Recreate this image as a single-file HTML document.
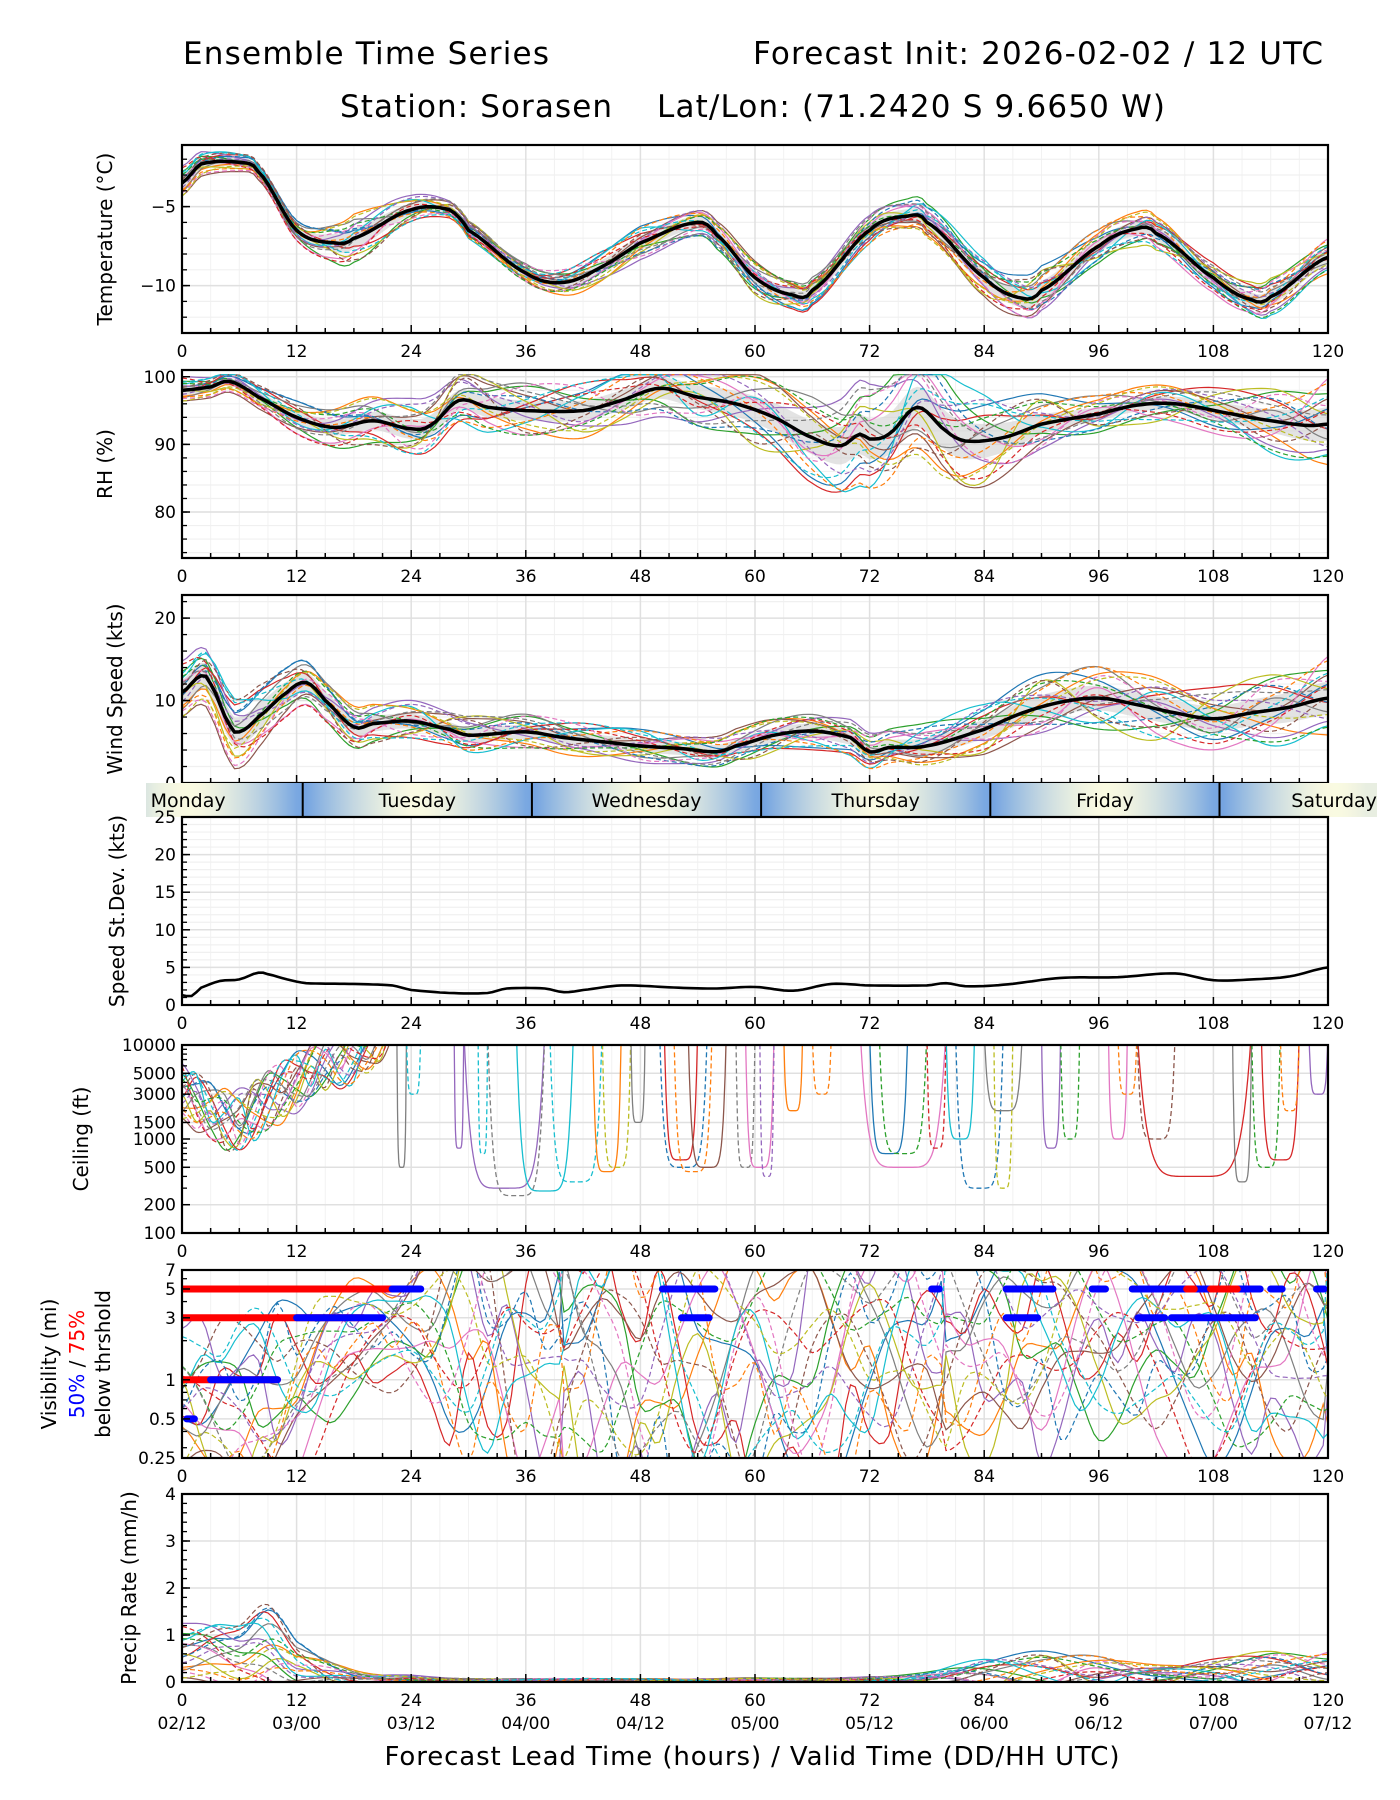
<!DOCTYPE html>
<html><head><meta charset="utf-8"><title>Ensemble Time Series</title>
<style>html,body{margin:0;padding:0;background:#fff}svg{display:block}text{font-family:"DejaVu Sans","Liberation Sans",sans-serif}</style>
</head><body>
<svg id="fig" xmlns="http://www.w3.org/2000/svg" width="1400" height="1800" viewBox="0 0 1400 1800">
<rect x="0" y="0" width="1400" height="1800" fill="#fff"/>
<text x="183" y="64" font-size="31" textLength="366">Ensemble Time Series</text>
<text x="1323" y="64" font-size="31" text-anchor="end" textLength="570">Forecast Init: 2026-02-02 / 12 UTC</text>
<text x="340" y="117" font-size="31" textLength="272">Station: Sorasen</text>
<text x="657" y="117" font-size="31" textLength="508">Lat/Lon: (71.2420 S 9.6650 W)</text>
<text x="752" y="1765" font-size="26" text-anchor="middle" textLength="735">Forecast Lead Time (hours) / Valid Time (DD/HH UTC)</text>
</svg>
<script>
// ---------- data ----------
const tempHours=[0,2,6,8,12,16,18,24,28,30,36,40,44,48,54,56,60,64,66,72,76,78,84,88,90,96,100,102,108,112,114,120];
const tempMean=[-3.5,-2.3,-2.2,-2.8,-6.5,-7.3,-7.0,-5.2,-5.2,-6.5,-9.2,-9.8,-8.8,-7.3,-6.0,-6.8,-9.5,-10.6,-10.3,-6.5,-5.6,-6.0,-9.5,-10.8,-10.3,-7.5,-6.4,-6.7,-9.5,-10.9,-10.7,-8.2];
const tempSpread=[0.9,0.5,0.6,1.3,0.7,0.5,0.5,0.8,0.9,0.8,0.9,0.8,0.8,0.9,1.0,1.2,0.9,0.9,0.8,1.0,1.0];
const rhHours=[0,3,5,8,12,16,20,24,26,29,32,36,42,46,50,54,58,62,66,69,71,72,74,77,80,82,86,90,96,100,104,110,114,118,120];
const rhMean=[98,98.5,99.3,97,94,92.5,93.5,92.3,92.8,96.5,95.5,95,95,96.5,98.3,97,96,94,91,89.8,91.5,90.8,91.5,95.5,92,90.5,91,93,94.5,95.8,96,94.5,93.5,92.8,93];
const rhSpread=[1.5,1.2,2,2.5,3,3,3,3,3,3.5,4,5,6,6,5,3,2,2,2.5,3.5,5];
const windHours=[0,2,3,5,6,8,11,13,15,18,20,24,28,30,36,40,44,48,52,56,58,62,66,70,72,74,78,84,88,92,96,100,104,108,112,116,120];
const windMean=[11,13,12,7,6.2,8,11,12.2,10,6.8,7.2,7.5,6.5,5.8,6.2,5.5,5,4.5,4.2,3.8,4.5,5.8,6.3,5.5,3.8,4.3,4.5,6.5,8.5,9.8,10.3,9.5,8.5,7.8,8.5,9.2,10.3];
const windSpread=[3,3.5,2.5,2,1.8,1.8,1.7,1.6,1.6,1.6,1.7,1.8,1.8,2,2.4,2.8,3,3,3,3.4,4];
const sdHours=[0,1,2,4,6,8,9,11,13,18,22,24,28,32,34,38,40,42,46,52,56,60,64,68,72,78,80,82,86,92,98,104,108,112,116,120];
const sdValues=[1.3,1.2,2.3,3.2,3.4,4.3,4.1,3.4,2.9,2.8,2.6,2.0,1.6,1.6,2.2,2.2,1.7,2.0,2.6,2.3,2.2,2.4,1.9,2.8,2.6,2.6,2.9,2.5,2.7,3.6,3.7,4.2,3.3,3.4,3.8,5.0];
const ceilHours=[0,3,6,9,12,15,18,21,24];
const ceilMean=[3000,2000,1500,2500,4000,7000,8000,15000,40000];
// ceiling dips: start hour, end hour, minimum ft, member index
const dipStart=[22.5,23.5,28.5,31,29.5,32,35,38.5,43,44,47,50,50.5,51.5,53,58,59,60.5,63,66,72,73,71,78,80,81,84,85,90,92,97,98,100,100,110,112,113,115,118];
const dipEnd=[23.5,25,29.5,32,38,38,41,44,46,47,48.5,55,54,55.5,57,60,62,62,65,68,76,78,80,80,83,86,88,87,92,94,99,100,112,104,112,115,117,117,120];
const dipMin=[500,3000,800,700,300,250,280,350,450,500,1500,500,600,450,500,500,500,400,2000,3000,700,700,500,800,1000,300,2000,300,800,1000,1000,3000,400,1000,350,500,600,2000,3000];
const dipMember=[7,9,4,9,4,7,9,9,1,8,7,0,3,1,5,7,6,4,1,1,0,2,6,3,9,0,7,8,4,2,6,1,3,5,7,2,3,1,4];
const visHours=[0,6,12,18,24,30,36,42,48,54,60,66,72,78,84,90,96,102,108,114,120];
const visMean=[0.6,0.55,0.8,2,2.5,2.5,1.5,1.4,1.2,1.0,1.0,1.2,2,1.8,2,2,2.5,2,1.5,1.8,1.5];
const visSpread=[0.35,0.45,0.4,0.25,0.3,0.6,0.7,0.7,0.7,0.6,0.6,0.6,0.5,0.6,0.5,0.5,0.45,0.45,0.5,0.55,0.5];
// threshold bars: level (mi), start h, end h, colour
const barLevel=[5,3,1,3,1,0.5,5,5,3,5,5,5,5,3,3,3,5,5,5,5];
const barStart=[0,0,0,12,3,0.5,22,50.3,52.3,78.5,86.3,95.3,99.5,86.3,100.1,103.6,105.2,107.7,114,118.8];
const barEnd=[22,19,10,21,10,1.3,25,55.8,55.2,79.3,91.2,96.7,112.9,89.6,102.9,112.4,106,110.5,115.2,119.6];
const barColor=['red','red','red','blue','blue','blue','blue','blue','blue','blue','blue','blue','blue','blue','blue','blue','red','red','blue','blue'];
const prHours=[0,3,6,9,12,18,24,30,36,42,48,54,60,66,72,78,84,90,96,102,108,114,120];
const prMean=[0.6,0.65,0.55,0.75,0.35,0.08,0.05,0.03,0.03,0.03,0.03,0.03,0.03,0.03,0.04,0.05,0.12,0.18,0.18,0.15,0.2,0.22,0.2];
const prSpread=[0.45,0.5,0.5,0.7,0.4,0.12,0.06,0.03,0.03,0.03,0.03,0.03,0.04,0.04,0.05,0.1,0.25,0.3,0.25,0.15,0.2,0.3,0.3];
const memberOffsets=[
[0.2,0.5,0.8,0.3,-0.2,-0.5,0.1,0.6,0.9,0.4,-0.3,-0.8,-0.4,0.2,0.7,1.0,0.5,-0.1,-0.6,-0.2,0.3],
[-0.4,-0.2,0.3,0.9,0.6,0.0,-0.6,-0.9,-0.3,0.4,0.8,0.5,-0.2,-0.7,-0.5,0.1,0.7,0.9,0.3,-0.4,-0.8],
[0.6,0.1,-0.5,-0.9,-0.4,0.3,0.8,0.4,-0.2,-0.8,-0.6,0.1,0.7,1.0,0.4,-0.3,-0.9,-0.5,0.2,0.8,0.6],
[-0.1,0.7,0.4,-0.3,-0.8,-0.6,0.2,0.9,0.5,-0.1,-0.5,-0.9,-0.6,0.0,0.5,0.3,-0.2,0.4,0.9,0.6,-0.1],
[0.9,0.4,-0.1,0.5,1.0,0.6,-0.2,-0.5,-0.9,-0.7,0.0,0.6,0.9,0.3,-0.4,-0.8,-0.3,0.2,-0.2,-0.7,-0.5],
[-0.7,-0.9,-0.5,0.0,0.4,0.8,0.5,0.0,0.3,0.7,0.9,0.4,-0.1,-0.5,-0.9,-0.6,0.0,0.6,0.4,0.0,0.5],
[0.3,-0.3,-0.8,-0.5,0.1,-0.3,-0.8,-0.4,0.1,0.6,0.2,-0.3,0.3,0.6,0.1,-0.5,0.3,-0.7,-0.9,-0.4,0.9],
[-0.5,0.2,0.6,0.7,-0.1,0.4,0.9,0.2,-0.6,-0.3,0.5,0.8,0.2,-0.4,0.2,0.6,0.9,0.1,-0.4,0.3,-0.3],
[0.0,-0.6,0.0,-0.6,-0.6,0.9,0.3,-0.7,-0.5,0.1,-0.9,-0.2,0.5,-0.2,-0.8,0.8,-0.6,-0.9,0.6,0.9,0.2],
[0.4,0.8,-0.3,0.2,0.7,-0.8,-0.4,0.5,0.8,-0.5,0.3,-0.5,-0.8,0.8,0.9,-0.1,-0.7,0.5,0.0,-0.9,-0.6]];
const knotHours=[0,6,12,18,24,30,36,42,48,54,60,66,72,78,84,90,96,102,108,114,120];
const dayNames=['Monday','Tuesday','Wednesday','Thursday','Friday','Saturday'];
const hourTicks=[0,12,24,36,48,60,72,84,96,108,120];
const dateTicks=['02/12','03/00','03/12','04/00','04/12','05/00','05/12','06/00','06/12','07/00','07/12'];
const COLORS=['#1f77b4','#ff7f0e','#2ca02c','#d62728','#9467bd','#8c564b','#e377c2','#7f7f7f','#bcbd22','#17becf'];

// ---------- helpers ----------
const NS='http://www.w3.org/2000/svg';
const svg=document.getElementById('fig');
const X0=182,X1=1328,PH=188;
function xs(h){return X0+h*(X1-X0)/120;}
function mk(tag,attrs,parent){const e=document.createElementNS(NS,tag);for(const k in attrs)e.setAttribute(k,attrs[k]);(parent||svg).appendChild(e);return e;}
function interp(hx,hy,t){
  const n=hx.length;if(t<=hx[0])return hy[0];if(t>=hx[n-1])return hy[n-1];
  let i=0;while(i<n-2&&t>hx[i+1])i++;
  const u=(t-hx[i])/(hx[i+1]-hx[i]);
  const p0=hy[Math.max(i-1,0)],p1=hy[i],p2=hy[i+1],p3=hy[Math.min(i+2,n-1)];
  const u2=u*u,u3=u2*u;
  return 0.5*((2*p1)+(-p0+p2)*u+(2*p0-5*p1+4*p2-p3)*u2+(-p0+3*p1-3*p2+p3)*u3);
}
function pathFrom(pts){return pts.map((p,i)=>(i?'L':'M')+p[0].toFixed(1)+' '+p[1].toFixed(1)).join('');}
let clipId=0;
function makePanel(o){
  const g=mk('g',{});
  
  
  const top=o.top,bot=o.top+PH;
  const ys=v=>{if(o.log){const a=Math.log10(o.ymin),b=Math.log10(o.ymax);return bot-(Math.log10(v)-a)/(b-a)*PH;}return bot-(v-o.ymin)/(o.ymax-o.ymin)*PH;};
  for(let h=0;h<=120;h+=3){if(h%12)mk('line',{x1:xs(h),x2:xs(h),y1:top,y2:bot,stroke:'#f2f2f2','stroke-width':1},g);}
  (o.minorY||[]).forEach(v=>mk('line',{x1:X0,x2:X1,y1:ys(v),y2:ys(v),stroke:'#f0f0f0','stroke-width':1.2},g));
  hourTicks.forEach(h=>mk('line',{x1:xs(h),x2:xs(h),y1:top,y2:bot,stroke:'#e0e0e0','stroke-width':1.5},g));
  o.yticks.forEach(v=>mk('line',{x1:X0,x2:X1,y1:ys(v),y2:ys(v),stroke:'#e0e0e0','stroke-width':1.5},g));
  const cid='c'+(clipId++);
  const cp=mk('clipPath',{id:cid},g);mk('rect',{x:X0,y:top,width:X1-X0,height:PH},cp);
  const dg=mk('g',{'clip-path':'url(#'+cid+')'},g);
  
  
  o.draw(dg,ys);
  const fr=mk('rect',{x:X0,y:top,width:X1-X0,height:PH,fill:'none',stroke:'#000','stroke-width':2.2},g);
  
  
  for(let h=0;h<=120;h+=3){const L=h%12?5:8;mk('line',{x1:xs(h),x2:xs(h),y1:bot,y2:bot-L,stroke:'#000','stroke-width':1.5},g);}
  (o.minorTicks||o.minorY||[]).forEach(v=>mk('line',{x1:X0,x2:X0+5,y1:ys(v),y2:ys(v),stroke:'#000','stroke-width':1.3},g));
  o.yticks.forEach((v,i)=>{mk('line',{x1:X0,x2:X0+8,y1:ys(v),y2:ys(v),stroke:'#000','stroke-width':1.5},g);
    const t=mk('text',{x:X0-6,y:ys(v)+6,'font-size':17,'text-anchor':'end'},g);t.textContent=(o.ylabels?o.ylabels[i]:String(v)).replace('-','\u2212');
    
    });
  hourTicks.forEach((h,i)=>{const t=mk('text',{x:xs(h),y:bot+24,'font-size':17,'text-anchor':'middle'},g);t.textContent=h;
    
    
    if(o.dates){const d=mk('text',{x:xs(h),y:bot+47,'font-size':17,'text-anchor':'middle'},g);d.textContent=dateTicks[i];
      
      }});
  if(o.ylabel){const cy=top+PH/2;const t=mk('text',{x:o.lx,y:cy,'font-size':20,'text-anchor':'middle',transform:'rotate(-90 '+o.lx+' '+cy+')'},g);t.textContent=o.ylabel;
    
    }
  return {g,ys,top,bot};
}
function offsetAt(m,t){return interp(knotHours,memberOffsets[m],t);}
function memberOff(k,t){
  if(k<10)return offsetAt(k,t);
  return offsetAt((k+3)%10,120-t)*0.9;
}
function drawMembers(dg,ys,meanFn,spreadFn,opts){
  for(let k=0;k<20;k++){
    const pts=[];
    for(let t=0;t<=120.01;t+=0.5){let v=meanFn(t)+spreadFn(t)*memberOff(k,t)*(opts.amp||1.2);if(opts.tr)v=opts.tr(v);pts.push([xs(t),ys(v)]);}
    const p=mk('path',{d:pathFrom(pts),fill:'none',stroke:COLORS[k%10],'stroke-width':1.2,'stroke-dasharray':k>=10?'5 3':'none'},dg);
    
    
  }
}
function drawBandMean(dg,ys,meanFn,spreadFn,w){
  const up=[],dn=[];
  for(let t=0;t<=120.01;t+=0.5){up.push([xs(t),ys(meanFn(t)+spreadFn(t)*0.5)]);dn.unshift([xs(t),ys(meanFn(t)-spreadFn(t)*0.5)]);}
  const b=mk('path',{d:pathFrom(up.concat(dn))+'Z',fill:'#d0d0d0','fill-opacity':0.6,stroke:'none'},dg);
  
  
  return function(){
    const pts=[];for(let t=0;t<=120.01;t+=0.5)pts.push([xs(t),ys(meanFn(t))]);
    const m=mk('path',{d:pathFrom(pts),fill:'none',stroke:'#000','stroke-width':w||3.5},dg);
    
    
  };
}
function range(a,b,s){const r=[];for(let v=a;v<=b+1e-9;v+=s)r.push(+v.toFixed(3));return r;}

// ---------- Temperature ----------
const tMean=t=>interp(tempHours,tempMean,t),tSp=t=>interp(knotHours,tempSpread,t);
makePanel({name:'temperature-panel',top:145,ymin:-13,ymax:-1.1,yticks:[-10,-5],ylabels:['-10','-5'],minorY:range(-13,-2,1),ylabel:'Temperature (°C)',lx:112,
  draw:(dg,ys)=>{const fin=drawBandMean(dg,ys,tMean,tSp);drawMembers(dg,ys,tMean,tSp,{amp:1.3});fin();}});
// ---------- RH ----------
const rMean=t=>interp(rhHours,rhMean,t),rSp=t=>interp(knotHours,rhSpread,t);
makePanel({name:'rh-panel',top:370,ymin:73.2,ymax:101,yticks:[80,90,100],minorY:range(74,100,2),ylabel:'RH (%)',lx:112,
  draw:(dg,ys)=>{const fin=drawBandMean(dg,ys,rMean,rSp);drawMembers(dg,ys,rMean,rSp,{amp:1.5,tr:v=>Math.min(v,100.3)});fin();}});
// ---------- Wind ----------
const wMean=t=>interp(windHours,windMean,t),wSp=t=>interp(knotHours,windSpread,t);
makePanel({name:'wind-speed-panel',top:595,ymin:0,ymax:22.8,yticks:[0,10,20],minorY:range(2,22,2),ylabel:'Wind Speed (kts)',lx:122,
  draw:(dg,ys)=>{const fin=drawBandMean(dg,ys,wMean,wSp);drawMembers(dg,ys,wMean,wSp,{amp:1.4,tr:v=>Math.max(v,0)});fin();}});
// ---------- Day bar ----------
(function(){
  const y0=783,y1=817,L=146,R=1377;
  const defs=mk('defs',{});
  const gr=mk('linearGradient',{id:'dayGrad',gradientUnits:'userSpaceOnUse',x1:L,x2:R,y1:0,y2:0},defs);
  for(let h=-4;h<=124;h+=1){
    const x=xs(h);const local=((h-0.64)%24+24)%24;
    const f=Math.abs(local>12?24-local:local)/12;
    const c1=[250,250,225],c2=[110,160,225];
    const c=c1.map((v,i)=>Math.round(v+(c2[i]-v)*Math.pow(f,1.6)));
    mk('stop',{offset:Math.min(1,Math.max(0,(x-L)/(R-L))),'stop-color':'rgb('+c.join(',')+')'},gr);
  }
  const r=mk('rect',{x:L,y:y0,width:R-L,height:y1-y0,fill:'url(#dayGrad)'});
  
  
  for(let k=0;k<5;k++){const h=12.64+24*k;const l=mk('line',{x1:xs(h),x2:xs(h),y1:y0,y2:y1,stroke:'#000','stroke-width':2});
    
    }
  dayNames.forEach((d,k)=>{const t=mk('text',{x:xs(0.64+24*k),y:y0+24,'font-size':19,'text-anchor':'middle'});t.textContent=d;
    
    });
})();
// ---------- Speed st dev ----------
makePanel({name:'speed-stdev-panel',top:817,ymin:0,ymax:25,yticks:[0,5,10,15,20,25],minorY:range(1,24,1),ylabel:'Speed St.Dev. (kts)',lx:124,
  draw:(dg,ys)=>{const pts=[];for(let t=0;t<=120.01;t+=0.5)pts.push([xs(t),ys(interp(sdHours,sdValues,t))]);
    const p=mk('path',{d:pathFrom(pts),fill:'none',stroke:'#000','stroke-width':2.6},dg);
    
    }});
// ---------- Ceiling ----------
makePanel({name:'ceiling-panel',top:1045,ymin:100,ymax:10000,log:true,yticks:[100,200,500,1000,1500,3000,5000,10000],
  minorTicks:[300,400,600,700,800,900,2000,4000,6000,7000,8000,9000],ylabel:'Ceiling (ft)',lx:88,
  draw:(dg,ys)=>{
    const cm=t=>Math.log10(interp(ceilHours,ceilMean,Math.min(t,24)));
    for(let k=0;k<20;k++){const pts=[];for(let t=0;t<=24;t+=0.25){const v=Math.pow(10,cm(t)+0.28*memberOff(k,t*4)*1.3);pts.push([xs(t),ys(Math.min(v,20000))]);}
      const p=mk('path',{d:pathFrom(pts),fill:'none',stroke:COLORS[k%10],'stroke-width':1.2,'stroke-dasharray':k>=10?'5 3':'none'},dg);
      
      }
    dipStart.forEach((s,i)=>{const e=dipEnd[i],mn=Math.log10(dipMin[i]),top=Math.log10(15000);const pts=[];
      for(let j=0;j<=60;j++){const t=s+(e-s)*j/60;const f=Math.pow(Math.abs(2*j/60-1),6);pts.push([xs(t),ys(Math.pow(10,mn+f*(top-mn)))]);}
      const p=mk('path',{d:pathFrom(pts),fill:'none',stroke:COLORS[dipMember[i]],'stroke-width':1.3,'stroke-dasharray':i%2?'5 3':'none'},dg);
      
      });
  }});
// ---------- Visibility ----------
makePanel({name:'visibility-panel',top:1270,ymin:0.25,ymax:7,log:true,yticks:[0.25,0.5,1,3,5,7],
  minorY:[],minorTicks:[0.3,0.4,0.6,0.7,0.8,0.9,2,4,6],
  draw:(dg,ys)=>{
    const vm=t=>Math.log10(interp(visHours,visMean,t)),vsp=t=>interp(visHours,visSpread,t);
    for(let k=0;k<20;k++){const pts=[];for(let t=0;t<=120.01;t+=0.5){const wig=memberOff((k+5)%20,(t*3)%120);const v=Math.pow(10,vm(t)+vsp(t)*(memberOff(k,t)*1.6+wig*0.8));pts.push([xs(t),ys(Math.min(Math.max(v,0.2),9))]);}
      const p=mk('path',{d:pathFrom(pts),fill:'none',stroke:COLORS[k%10],'stroke-width':1.2,'stroke-dasharray':k>=10?'5 3':'none'},dg);
      
      }
    barLevel.forEach((lv,i)=>{const b=mk('line',{x1:xs(barStart[i]),x2:xs(barEnd[i]),y1:ys(lv),y2:ys(lv),stroke:barColor[i]==='red'?'#ff0000':'#0000ff','stroke-width':7,'stroke-linecap':'round'},dg);
      
      });
  }});
(function(){const cy=1364;
  const a=mk('text',{x:56,y:cy,'font-size':20,'text-anchor':'middle',transform:'rotate(-90 56 '+cy+')'});a.textContent='Visibility (mi)';
  
  const b=mk('text',{x:84,y:cy,'font-size':20,'text-anchor':'middle',transform:'rotate(-90 84 '+cy+')'});
  
  const s1=mk('tspan',{fill:'#0000ff'},b);s1.textContent='50%';const s2=mk('tspan',{fill:'#000'},b);s2.textContent=' / ';const s3=mk('tspan',{fill:'#ff0000'},b);s3.textContent='75%';
  const c=mk('text',{x:110,y:cy,'font-size':20,'text-anchor':'middle',transform:'rotate(-90 110 '+cy+')'});c.textContent='below thrshold';
  })();
// ---------- Precip ----------
makePanel({name:'precip-panel',top:1494,ymin:0,ymax:4,yticks:[0,1,2,3,4],minorY:[],minorTicks:range(0.2,3.8,0.2),ylabel:'Precip Rate (mm/h)',lx:136,dates:true,
  draw:(dg,ys)=>{const pm=t=>interp(prHours,prMean,t),ps=t=>interp(prHours,prSpread,t);
    drawMembers(dg,ys,pm,ps,{amp:1.6,tr:v=>Math.max(v,0)});}});
</script>
</body></html>
